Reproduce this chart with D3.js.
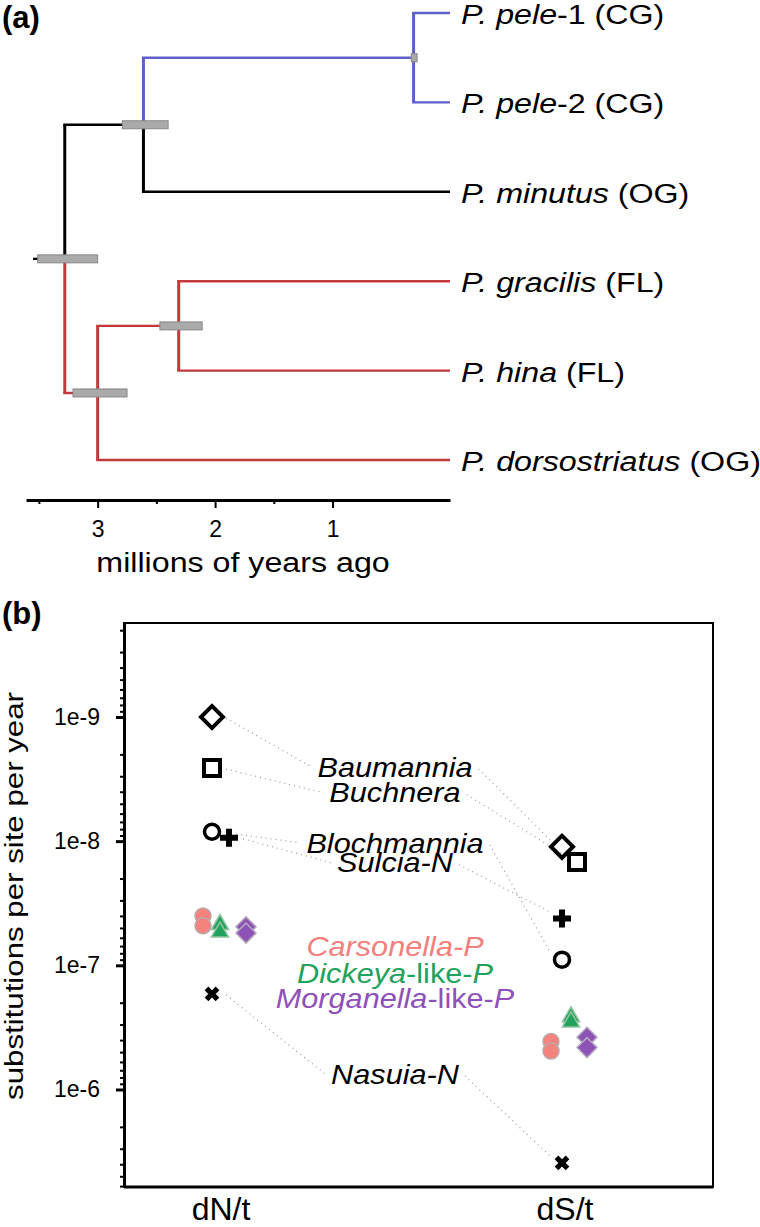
<!DOCTYPE html>
<html>
<head>
<meta charset="utf-8">
<script src="https://cdn.jsdelivr.net/npm/d3@7"></script>
<style>
  body { margin: 0; background: #fff; }
  svg { display: block; font-family: "Liberation Sans", Arial, sans-serif; }
</style>
</head>
<body>
<svg id="chart" width="760" height="1227"></svg>
<script>
// ---------- (a) dated tree ----------
const nodeIds     = ["root", "pele_min", "pele", "fl_dors", "fl",
                     "P. pele-1 (CG)", "P. pele-2 (CG)", "P. minutus (OG)",
                     "P. gracilis (FL)", "P. hina (FL)", "P. dorsostriatus (OG)"];
const nodeParents = [null, "root", "pele_min", "root", "fl_dors",
                     "pele", "pele", "pele_min", "fl", "fl", "fl_dors"];
const nodeAges    = [3.28, 2.61, 0.31, 3.0, 2.31, 0, 0, 0, 0, 0, 0];
const hpdLow      = [3.0, 2.40, 0.28, 2.75, 2.11, null, null, null, null, null, null];
const hpdHigh     = [3.51, 2.79, 0.33, 3.21, 2.47, null, null, null, null, null, null];
const nodeGroups  = ["base", "base", "CG", "FL", "FL", "CG", "CG", "base", "FL", "FL", "FL"];
const rootStubAge = 3.55;
const timeTicks   = [3, 2, 1];
const timeMinor   = [3.5, 2.5, 1.5];

// ---------- (b) substitution rates ----------
const rateCategories = ["dN/t", "dS/t"];
const symbionts = ["Baumannia", "Buchnera", "Blochmannia", "Sulcia-N",
                   "Carsonella-P", "Dickeya-like-P", "Morganella-like-P", "Nasuia-N"];
const dNValues = [[1.0e-9], [2.58e-9], [8.4e-9], [9.4e-9],
                  [4.0e-8, 4.8e-8], [4.7e-8, 5.4e-8], [4.9e-8, 5.5e-8], [1.7e-7]];
const dSValues = [[1.11e-8], [1.47e-8], [9.0e-8], [4.2e-8],
                  [4.1e-7, 4.9e-7], [2.6e-7, 2.86e-7], [3.8e-7, 4.6e-7], [3.9e-6]];
const rateMajorTicks = [1e-9, 1e-8, 1e-7, 1e-6];

// ---------- styles / layout ----------
const groupColor = { base: "#000", CG: "#5f5fca", FL: "#c33a3d" };
const labelAnchor = [2.52e-9, 4.07e-9, 1.03e-8, 1.49e-8, 7.0e-8, 1.16e-7, 1.84e-7, 7.5e-7];
const nudgeDN = [0, 0, 0, 17, -9, 8, 34, 0];
const nudgeDS = [0, 15, 0, 0, -11, 9, 25, 0];
const markerStyle = [
    { shape: "diamond", size: 243, fill: "none", stroke: "#000", sw: 4 },
    { shape: "square", size: 256, fill: "none", stroke: "#000", sw: 4 },
    { shape: "circle", size: 177, fill: "none", stroke: "#000", sw: 3.5 },
    { shape: "plus", size: 180, fill: "#000", stroke: "none", sw: 0 },
    { shape: "circle", size: 201, fill: "#f4827d", stroke: "#b9aaaa", sw: 1.5, label: "#f27f7c" },
    { shape: "triangle", size: 130, fill: "#21a25a", stroke: "#93c4a2", sw: 1.5, label: "#1fa25b" },
    { shape: "diamond", size: 200, fill: "#8d52b5", stroke: "#b4a7be", sw: 1.5, label: "#8f50b9" },
    { shape: "times", size: 135, fill: "#000", stroke: "none", sw: 0 }
];
// the original lettering is a bit wider than Liberation Sans, so stretch it
const wide = 1.15;

const svg = d3.select("#chart");

function styledText(sel, parts) {
    parts.forEach(p => {
        sel.append("tspan").text(p[0]).style("font-style", p[1] ? "italic" : "normal");
    });
    return sel;
}

function addText(g, x, y, size, sx, extra) {
    return g.append("text")
        .attr("transform", `translate(${x},${y})${extra || ""} scale(${sx},1)`)
        .style("font-size", size + "px")
        .attr("fill", "#000");
}

// ================= panel (a) =================
const xTime = d3.scaleLinear().domain([3.61, 0]).range([26, 450]);

const rows = nodeIds.map((id, i) => ({
    id, parent: nodeParents[i], age: nodeAges[i],
    lo: hpdLow[i], hi: hpdHigh[i], group: nodeGroups[i]
}));
const tree = d3.stratify().id(d => d.id).parentId(d => d.parent)(rows);
const leafIds = tree.leaves().map(d => d.id);
const yTip = d3.scalePoint().domain(leafIds).range([13, 460]);
tree.eachAfter(n => {
    n.py = n.children ? d3.mean(n.children, c => c.py) : yTip(n.id);
});

const gA = svg.append("g");

// root stub
gA.append("line")
    .attr("x1", xTime(rootStubAge)).attr("x2", xTime(tree.data.age))
    .attr("y1", tree.py).attr("y2", tree.py)
    .attr("stroke", "#000").attr("stroke-width", 2.4);

// branches (vertical + horizontal per child)
tree.descendants().filter(n => n.parent).forEach(n => {
    const col = groupColor[n.data.group];
    const px = xTime(n.parent.data.age);
    gA.append("line")
        .attr("x1", px).attr("x2", px)
        .attr("y1", n.parent.py).attr("y2", n.py)
        .attr("stroke", col).attr("stroke-width", 3);
    gA.append("line")
        .attr("x1", px - 1.5).attr("x2", xTime(n.data.age))
        .attr("y1", n.py).attr("y2", n.py)
        .attr("stroke", col).attr("stroke-width", 2.4);
});

// node age intervals
gA.selectAll("rect.hpd")
    .data(tree.descendants().filter(n => n.children))
    .join("rect")
    .attr("class", "hpd")
    .attr("x", d => xTime(d.data.hi))
    .attr("width", d => xTime(d.data.lo) - xTime(d.data.hi))
    .attr("y", d => d.py - 4)
    .attr("height", 8)
    .attr("fill", "#aaa")
    .attr("stroke", "#888")
    .attr("stroke-width", 1);

// tip labels
tree.leaves().forEach(n => {
    const m = n.id.match(/^(P\. [a-z]+)(.*)$/);
    const t = addText(gA, xTime(0) + 11, n.py + 11, 28, wide);
    styledText(t, [[m[1], true], [m[2], false]]);
});

// time axis
const axisA = gA.append("g")
    .attr("transform", "translate(0,500)")
    .call(d3.axisBottom(xTime).tickValues(timeTicks).tickSize(8).tickSizeOuter(0)
        .tickPadding(13).tickFormat(d3.format("d")));
axisA.select(".domain").attr("stroke-width", 3);
axisA.selectAll(".tick line").attr("stroke-width", 2);
axisA.selectAll(".tick text").style("font-size", "23px").attr("fill", "#000")
    .style("font-family", "Liberation Sans, Arial, sans-serif");

const axisAMinor = gA.append("g")
    .attr("transform", "translate(0,500)")
    .call(d3.axisBottom(xTime).tickValues(timeMinor).tickSize(4).tickFormat(""));
axisAMinor.select(".domain").remove();
axisAMinor.selectAll(".tick line").attr("stroke-width", 2);

addText(gA, 243, 572, 28, wide)
    .attr("text-anchor", "middle")
    .text("millions of years ago");

svg.append("text").attr("x", 2).attr("y", 28)
    .style("font-size", "31px").style("font-weight", "bold").text("(a)");

// ================= panel (b) =================
svg.append("text").attr("x", 2).attr("y", 624)
    .style("font-size", "31px").style("font-weight", "bold").text("(b)");

const plot = { left: 124, right: 713, top: 623, bottom: 1187 };
const yRate = d3.scaleLog().domain([1.75e-10, 6.1e-6]).range([plot.top, plot.bottom]);
const xCat = d3.scalePoint().domain(rateCategories).range([212, 562]);
const catLabelShift = [9, 3];

const gB = svg.append("g");

gB.append("rect")
    .attr("x", plot.left).attr("y", plot.top)
    .attr("width", plot.right - plot.left).attr("height", plot.bottom - plot.top)
    .attr("fill", "none").attr("stroke", "#000").attr("stroke-width", 2);

const axisY = gB.append("g")
    .attr("transform", `translate(${plot.left},0)`)
    .call(d3.axisLeft(yRate).tickValues(rateMajorTicks).tickSize(8).tickSizeOuter(0)
        .tickPadding(16).tickFormat(d => "1e" + Math.round(Math.log10(d))));
axisY.select(".domain").attr("stroke-width", 3);
axisY.selectAll(".tick line").attr("stroke-width", 3);
axisY.selectAll(".tick text").style("font-size", "23px").attr("fill", "#000")
    .style("font-family", "Liberation Sans, Arial, sans-serif");

const minorVals = yRate.ticks().filter(v => !rateMajorTicks.some(m => Math.abs(v - m) / m < 1e-6));
const axisYMinor = gB.append("g")
    .attr("transform", `translate(${plot.left},0)`)
    .call(d3.axisLeft(yRate).tickValues(minorVals).tickSize(4).tickFormat(""));
axisYMinor.select(".domain").remove();
axisYMinor.selectAll(".tick line").attr("stroke-width", 2);

gB.append("line")
    .attr("x1", plot.left).attr("x2", plot.right)
    .attr("y1", plot.bottom).attr("y2", plot.bottom)
    .attr("stroke", "#000").attr("stroke-width", 3);

addText(gB, 23, 896, 25, 1.25, " rotate(-90)")
    .attr("text-anchor", "middle")
    .text("substitutions per site per year");

rateCategories.forEach((c, i) => {
    gB.append("text")
        .attr("x", xCat(c) + catLabelShift[i]).attr("y", 1220)
        .attr("text-anchor", "middle")
        .style("font-size", "32px")
        .text(c);
});

// symbiont labels
function labelParts(name) {
    if (name.includes("-like-")) {
        const [a, b] = name.split("-like-");
        return [[a, true], ["-like-", false], [b, true]];
    }
    return [[name, true]];
}

const labelScale = 1.095;
const labelBoxes = symbionts.map((name, i) => {
    const cy = yRate(labelAnchor[i]);
    const t = addText(gB, 395, cy, 28, labelScale)
        .attr("dy", "0.35em")
        .attr("text-anchor", "middle")
        .attr("fill", markerStyle[i].label || "#000");
    styledText(t, labelParts(name));
    const w = t.node().getComputedTextLength() * labelScale;
    return { left: 395 - w / 2, right: 395 + w / 2, cy };
});

// dotted connectors
symbionts.forEach((name, i) => {
    if (markerStyle[i].label) return;
    const b = labelBoxes[i];
    const xn = xCat("dN/t") + nudgeDN[i], yn = yRate(dNValues[i][0]);
    const xs = xCat("dS/t") + nudgeDS[i], ys = yRate(dSValues[i][0]);
    const segs = [
        [xn + 14, yn + 1, b.left - 6, b.cy],
        [b.right + 6, b.cy + 2, xs - 11, ys - 6]
    ];
    segs.forEach(s => {
        gB.append("line")
            .attr("x1", s[0]).attr("y1", s[1]).attr("x2", s[2]).attr("y2", s[3])
            .attr("stroke", "#999").attr("stroke-width", 1.2)
            .attr("stroke-dasharray", "1,4");
    });
});

// markers
const symbolType = {
    diamond: d3.symbolSquare, square: d3.symbolSquare, circle: d3.symbolCircle,
    plus: d3.symbolCross, times: d3.symbolCross, triangle: d3.symbolTriangle
};
const rotated = { diamond: 45, times: 45 };

const points = [];
symbionts.forEach((name, i) => {
    dNValues[i].forEach(v => points.push({ i, cat: "dN/t", v, dx: nudgeDN[i] }));
    dSValues[i].forEach(v => points.push({ i, cat: "dS/t", v, dx: nudgeDS[i] }));
});

gB.append("g").selectAll("path")
    .data(points)
    .join("path")
    .attr("d", d => d3.symbol().type(symbolType[markerStyle[d.i].shape]).size(markerStyle[d.i].size)())
    .attr("transform", d => `translate(${xCat(d.cat) + d.dx},${yRate(d.v)}) rotate(${rotated[markerStyle[d.i].shape] || 0})`)
    .attr("fill", d => markerStyle[d.i].fill)
    .attr("stroke", d => markerStyle[d.i].stroke)
    .attr("stroke-width", d => markerStyle[d.i].sw);
</script>
</body>
</html>
